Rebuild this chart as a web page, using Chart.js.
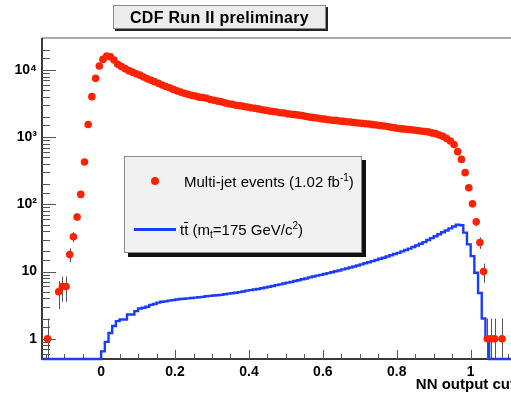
<!DOCTYPE html>
<html>
<head>
<meta charset="utf-8">
<script src="https://cdn.jsdelivr.net/npm/chart.js@4.4.1/dist/chart.umd.min.js"></script>
<style>
  html, body { margin: 0; padding: 0; background: #fff; width: 511px; height: 394px; overflow: hidden; }
  #wrap { position: absolute; left: 0; top: 0; width: 520px; height: 394px; }
  .box { position: absolute; font-family: "Liberation Sans", Arial, sans-serif; color: #000; }
  #title { left: 113px; top: 5px; width: 211px; height: 22px; background: #ececec; border: 1px solid #8a8a8a;
    box-shadow: 2px 2px 0 #222; font-weight: bold; font-size: 16px; line-height: 23px; text-align: center; letter-spacing: 0.3px; }
  #legend { left: 124px; top: 156px; width: 236px; height: 95px; background: #f1f1f1; border: 1px solid #8a8a8a;
    box-shadow: 4px 4px 0 #111; font-size: 15px; }
  .dot { position: absolute; left: 26px; top: 20px; width: 8px; height: 8px; border-radius: 50%; background: #ff2200; }
  .ln { position: absolute; left: 9px; top: 71px; width: 42px; height: 2.5px; background: #1a3cff; }
  .t1 { position: absolute; left: 59px; top: 15px; white-space: nowrap; }
  .t2 { position: absolute; left: 55px; top: 63px; white-space: nowrap; }
  sup, sub { font-size: 10px; }
  sup { vertical-align: 6px; }
  sub { vertical-align: -3px; }
  .ov { position: relative; }
  .ov::after { content: ''; position: absolute; left: 0; right: 0; top: 1px; border-top: 1px solid #000; }
</style>
</head>
<body>
<div id="wrap"><canvas id="c"></canvas></div>
<div id="title" class="box">CDF Run II preliminary</div>
<div id="legend" class="box">
  <div class="dot"></div>
  <div class="t1">Multi-jet events (1.02 fb<sup>-1</sup>)</div>
  <div class="ln"></div>
  <div class="t2">t<span class="ov">t</span> (m<sub>t</sub>=175 GeV/c<sup>2</sup>)</div>
</div>
<script>
// binning: 0.01 wide bins of NN output, first bin starts at nnLow
const nnLow = -0.16
const binWidth = 0.01

// multi-jet data, events per bin
const multijetCounts = [
  0, 1, 0, 0, 5, 6, 6, 18, 33, 65, 141, 427, 1550, 4020, 7520, 11500,
  14400, 16200, 15800, 14100, 12200, 11300, 10500, 9800, 9300, 8800,
  8400, 7900, 7400, 7050, 6700, 6350, 6000, 5700, 5450, 5150,
  4900, 4700, 4500, 4350, 4200, 4100, 3950, 3900, 3800, 3650,
  3550, 3450, 3380, 3250, 3150, 3100, 3000, 2950, 2880, 2820,
  2750, 2700, 2640, 2560, 2520, 2450, 2420, 2370, 2320, 2290,
  2230, 2200, 2170, 2130, 2100, 2040, 1990, 1960, 1930, 1880,
  1860, 1820, 1790, 1780, 1740, 1720, 1700, 1680, 1650, 1630,
  1610, 1590, 1570, 1540, 1520, 1490, 1470, 1440, 1410, 1380,
  1350, 1330, 1310, 1300, 1280, 1260, 1240, 1220, 1200, 1160,
  1130, 1080, 1030, 960, 880, 780, 610,
  468, 297, 177, 102, 55, 27, 10, 1, 1, 1, 0, 1, 0, 0, 0
]

// ttbar MC (mt = 175), expected events per bin
const ttbarYield = [
  0, 0, 0, 0, 0, 0, 0, 0, 0, 0, 0, 0, 0, 0, 0, 0,
  0.65, 0.9, 1.22, 1.55, 1.83, 1.94, 1.94, 2.3, 2.3, 2.58,
  2.82, 2.9, 3.0, 3.2, 3.3, 3.45, 3.55, 3.6, 3.7, 3.76,
  3.85, 3.9, 3.95, 4.0, 4.05, 4.1, 4.15, 4.2, 4.3, 4.35,
  4.4, 4.45, 4.5, 4.6, 4.7, 4.75, 4.85, 4.95, 5.05, 5.2,
  5.3, 5.4, 5.5, 5.65, 5.8, 5.95, 6.1, 6.3, 6.45, 6.65,
  6.85, 7.0, 7.25, 7.45, 7.7, 7.9, 8.2, 8.45, 8.7, 8.95,
  9.2, 9.5, 9.8, 10.1, 10.4, 10.8, 11.1, 11.5, 11.9, 12.3,
  12.8, 13.3, 13.8, 14.3, 14.9, 15.5, 16.1, 16.8, 17.5, 18.3,
  19.0, 20.0, 21.0, 22.0, 23.2, 24.5, 26.0, 27.5, 29.5, 31.5,
  33.5, 36, 38.5, 41, 44, 47, 50, 49, 38, 25.4,
  17, 9.6, 4.8, 2.0, 1.03,
  0, 0, 0, 0, 0, 0, 0
]

// axis ranges and labels
const xMin = -0.16, xMax = 1.12, xMinorStep = 0.05
const xMajorTicks = [0, 0.2, 0.4, 0.6, 0.8, 1]
const xTickLabels = ['0', '0.2', '0.4', '0.6', '0.8', '1']
const yMin = 0.5, yMax = 30000
const yMajorTicks = [1, 10, 100, 1000, 10000]
const yTickLabels = ['1', '10', '10²', '10³', '10⁴']

const binLow = k => +(nnLow + k * binWidth).toFixed(3)
const binCenter = k => +(nnLow + (k + 0.5) * binWidth).toFixed(4)

const dataPoints = multijetCounts
  .map((n, k) => ({ x: binCenter(k), y: n }))
  .filter(p => p.y > 0)

// histogram outline: one point per low edge, plus the closing edge
const ttbarSteps = ttbarYield.map((v, k) => ({ x: binLow(k), y: v > 0 ? v : yMin }))
ttbarSteps.push({ x: binLow(ttbarYield.length), y: yMin })

const isMajor = (list, v) => list.some(m => Math.abs(m - v) < 1e-6)

// ROOT-like frame with inward ticks + sqrt(N) error bars
const rootFrame = {
  id: 'rootFrame',
  beforeDatasetsDraw(chart) {
    const { ctx, chartArea: a, scales: { x, y } } = chart
    ctx.save()
    ctx.strokeStyle = '#8c8c8c'
    ctx.lineWidth = 1.5
    ctx.beginPath(); ctx.moveTo(a.left, a.top); ctx.lineTo(a.right, a.top); ctx.stroke()
    ctx.strokeStyle = '#3a3a3a'
    ctx.lineWidth = 2
    ctx.beginPath(); ctx.moveTo(a.left, a.top); ctx.lineTo(a.left, a.bottom); ctx.lineTo(a.right, a.bottom); ctx.stroke()

    ctx.strokeStyle = '#555'
    ctx.lineWidth = 1
    x.ticks.forEach(t => {
      const px = Math.round(x.getPixelForValue(t.value)) + 0.5
      const len = isMajor(xMajorTicks, t.value) ? 9 : 5
      ctx.beginPath(); ctx.moveTo(px, a.bottom); ctx.lineTo(px, a.bottom - len); ctx.stroke()
    })
    y.ticks.forEach(t => {
      if (t.value <= yMin || t.value >= yMax) return
      const py = Math.round(y.getPixelForValue(t.value)) + 0.5
      const len = isMajor(yMajorTicks, t.value) ? 14 : 8
      ctx.beginPath(); ctx.moveTo(a.left, py); ctx.lineTo(a.left + len, py); ctx.stroke()
    })

    // error bars
    ctx.beginPath()
    ctx.rect(a.left, a.top, a.right - a.left, a.bottom - a.top)
    ctx.clip()
    ctx.strokeStyle = '#555'
    dataPoints.forEach(p => {
      const e = Math.sqrt(p.y)
      const px = Math.round(x.getPixelForValue(p.x)) + 0.5
      const lo = p.y - e > 0 ? y.getPixelForValue(p.y - e) : a.bottom
      ctx.beginPath(); ctx.moveTo(px, lo); ctx.lineTo(px, y.getPixelForValue(p.y + e)); ctx.stroke()
    })
    ctx.restore()
  }
}

const tickFont = { family: '"Liberation Sans", Arial, sans-serif', size: 14, weight: 'bold' }

new Chart(document.getElementById('c'), {
  type: 'line',
  data: {
    datasets: [
      {
        label: 'Multi-jet events (1.02 fb-1)',
        data: dataPoints,
        showLine: false,
        pointRadius: 3.8,
        pointBackgroundColor: '#ff2200',
        pointBorderWidth: 0
      },
      {
        label: 'ttbar (mt=175 GeV/c2)',
        data: ttbarSteps,
        stepped: true,
        pointRadius: 0,
        borderColor: '#1a3cff',
        borderWidth: 2.4,
        fill: false,
        clip: { left: 0, top: 0, right: 0, bottom: 3 }
      }
    ]
  },
  options: {
    responsive: true,
    maintainAspectRatio: false,
    animation: false,
    events: [],
    layout: { padding: { top: 38, right: 5, bottom: 0, left: 0 } },
    plugins: { legend: { display: false }, tooltip: { enabled: false } },
    scales: {
      x: {
        type: 'linear',
        min: xMin,
        max: xMax,
        afterFit: s => { s.height = 35 },
        afterBuildTicks: s => {
          const t = []
          for (let k = Math.ceil(xMin / xMinorStep - 1e-9); k * xMinorStep <= xMax + 1e-9; k++) {
            t.push({ value: +(k * xMinorStep).toFixed(2) })
          }
          s.ticks = t
        },
        grid: { display: false, drawTicks: false },
        border: { display: false },
        ticks: {
          autoSkip: false,
          maxRotation: 0,
          padding: 5,
          color: '#000',
          font: tickFont,
          callback: v => {
            const i = xMajorTicks.findIndex(m => Math.abs(m - v) < 1e-6)
            return i >= 0 ? xTickLabels[i] : ''
          }
        },
        title: {
          display: true,
          text: 'NN output cut',
          align: 'end',
          color: '#000',
          font: { family: '"Liberation Sans", Arial, sans-serif', size: 15, weight: 'bold' },
          padding: { top: 0, bottom: 0 }
        }
      },
      y: {
        type: 'logarithmic',
        min: yMin,
        max: yMax,
        afterFit: s => { s.width = 42 },
        grid: { display: false, drawTicks: false },
        border: { display: false },
        ticks: {
          autoSkip: false,
          padding: 5,
          color: '#000',
          font: tickFont,
          callback: v => {
            const i = yMajorTicks.findIndex(m => Math.abs(m - v) < 1e-6 * m)
            return i >= 0 ? yTickLabels[i] : ''
          }
        }
      }
    }
  },
  plugins: [rootFrame]
})
</script>
</body>
</html>
